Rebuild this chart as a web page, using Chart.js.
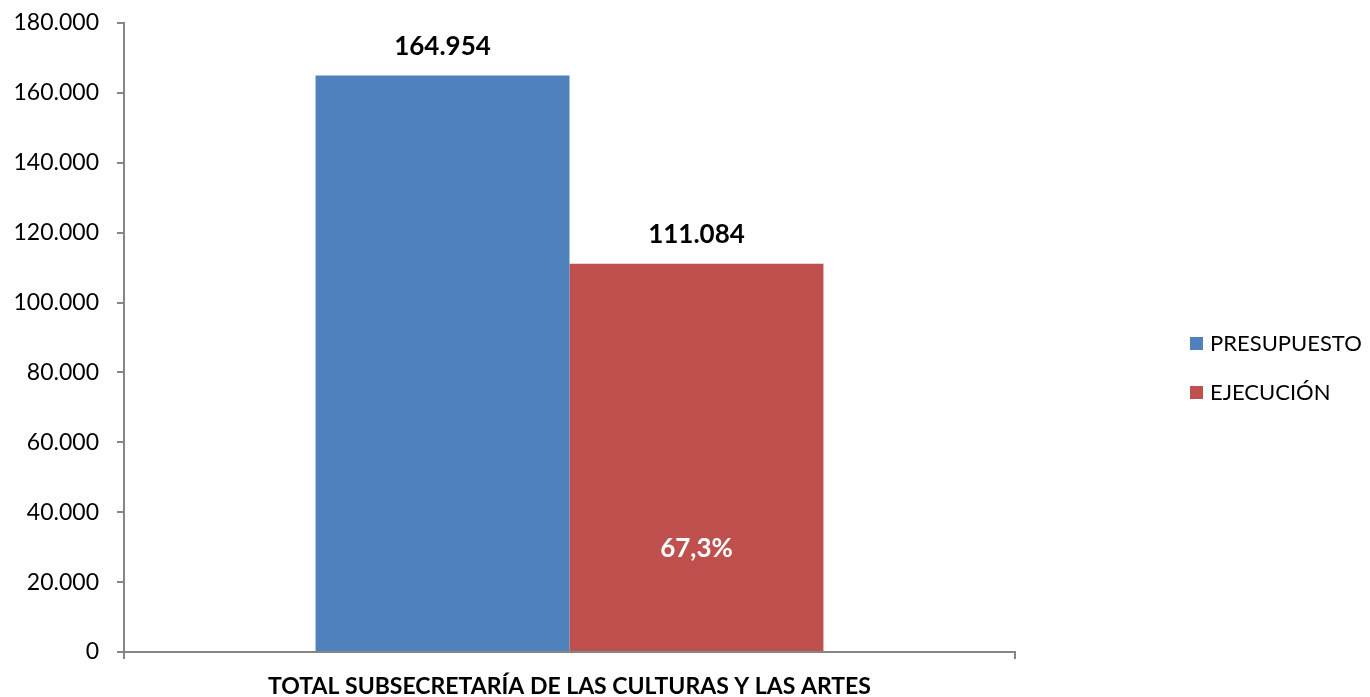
<!DOCTYPE html>
<html>
<head>
<meta charset="utf-8">
<script src="https://cdn.jsdelivr.net/npm/chart.js@4.4.1/dist/chart.umd.min.js"></script>
<style>
  html, body { margin: 0; padding: 0; background: #fff; }
  #wrap { width: 1370px; height: 697px; }
</style>
</head>
<body>
<div id="wrap"><canvas id="chart" width="1370" height="697"></canvas></div>
<script>
// ---------------------------------------------------------------------------
// Data
// ---------------------------------------------------------------------------
const categories = ["TOTAL SUBSECRETARÍA DE LAS CULTURAS Y LAS ARTES"];
const seriesNames = ["PRESUPUESTO", "EJECUCIÓN"];
const presupuesto = [164954];
const ejecucion = [111084];
const seriesColors = ["#4f81bd", "#c0504d"];

const FONT = "Lato, 'Open Sans', sans-serif";

// 164954 -> "164.954"
function fmtThousands(v) {
  return String(Math.round(v)).replace(/\B(?=(\d{3})+(?!\d))/g, ".");
}

// Value labels above each bar + execution percentage inside the red bar
const labelsPlugin = {
  id: "barLabels",
  afterDatasetsDraw(chart) {
    const ctx = chart.ctx;
    ctx.save();
    ctx.textAlign = "center";
    ctx.textBaseline = "middle";
    chart.data.datasets.forEach((ds, i) => {
      const meta = chart.getDatasetMeta(i);
      meta.data.forEach((bar, j) => {
        ctx.font = "bold 26px " + FONT;
        ctx.fillStyle = "#000";
        ctx.fillText(fmtThousands(ds.data[j]), bar.x, bar.y - 29);
      });
    });
    // percentage executed
    const red = chart.getDatasetMeta(1).data[0];
    const pct = (ejecucion[0] / presupuesto[0] * 100).toFixed(1).replace(".", ",") + "%";
    ctx.font = "bold 26px " + FONT;
    ctx.fillStyle = "#fff";
    ctx.fillText(pct, red.x, red.base - 102);
    ctx.restore();
  }
};

// Simple legend drawn to the right of the plot
const legendPlugin = {
  id: "sideLegend",
  afterDraw(chart) {
    const ctx = chart.ctx;
    ctx.save();
    ctx.textBaseline = "middle";
    ctx.font = "22px " + FONT;
    chart.data.datasets.forEach((ds, i) => {
      const y = 343 + i * 49;
      ctx.fillStyle = ds.backgroundColor;
      ctx.fillRect(1190, y - 6, 13, 13);
      ctx.fillStyle = "#000";
      ctx.fillText(ds.label, 1210, y + 1);
    });
    ctx.restore();
  }
};

new Chart(document.getElementById("chart"), {
  type: "bar",
  data: {
    labels: categories,
    datasets: [
      { label: seriesNames[0], data: presupuesto, backgroundColor: seriesColors[0] },
      { label: seriesNames[1], data: ejecucion, backgroundColor: seriesColors[1] }
    ]
  },
  options: {
    responsive: false,
    animation: false,
    layout: { padding: { top: 23, right: 355, left: 0, bottom: 0 } },
    datasets: { bar: { categoryPercentage: 0.57, barPercentage: 1.0 } },
    plugins: { legend: { display: false }, tooltip: { enabled: false } },
    scales: {
      x: {
        afterFit(scale) {
          scale.height = 45;
          scale.paddingLeft = 0;
          scale.paddingRight = 0;
        },
        grid: { offset: true, drawOnChartArea: false, drawTicks: true, tickLength: 7, color: "#868686", lineWidth: 2 },
        border: { color: "#868686", width: 2 },
        ticks: { color: "#000", font: { family: FONT, size: 23, weight: "bold" }, padding: 14, maxRotation: 0 }
      },
      y: {
        min: 0,
        max: 180000,
        afterFit(scale) {
          scale.width = 124;
          scale.paddingTop = 0;
          scale.paddingBottom = 0;
        },
        grid: { drawOnChartArea: false, drawTicks: true, tickLength: 7, color: "#868686", lineWidth: 2 },
        border: { color: "#868686", width: 2 },
        ticks: {
          stepSize: 20000,
          color: "#000",
          padding: 18,
          font: { family: FONT, size: 23 },
          callback: (v) => fmtThousands(v)
        }
      }
    }
  },
  plugins: [labelsPlugin, legendPlugin]
});
</script>
</body>
</html>
